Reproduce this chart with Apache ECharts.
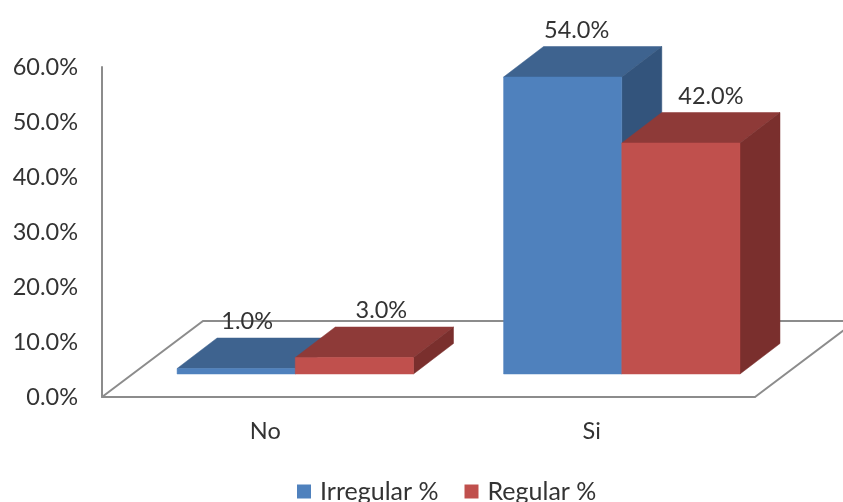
<!DOCTYPE html>
<html>
<head>
<meta charset="utf-8">
<style>html,body{margin:0;padding:0;background:#fff}#chart{width:843px;height:502px}</style>
<script src="https://cdn.jsdelivr.net/npm/echarts@6/dist/echarts.min.js"></script>
</head>
<body>
<div id="chart"></div>
<script>
const categories = ['No', 'Si'];
const irregular = [1, 54];
const regular = [3, 42];
const yTicks = { min: 0, max: 60, interval: 10 };

// Oblique projection used for the 3D look, in pixels
const depthX = 40, depthY = -30.5;        // bar depth
const floorX = 101, floorY = -76;         // floor depth
const barLift = 23;                       // bars stand this far above the front floor edge
const barShift = 0.092, barShare = 0.362; // fractions of a category band
const font = 'Lato, sans-serif';
const fontSize = 23.5;
const legendFontSize = 25;
const textColor = '#333333';
const axisColor = '#8c8c8c';

function pct(v) { return v.toFixed(1) + '%'; }

function floorItem(params, api) {
  const band = api.size([1, 0])[0];
  const o = api.coord([0, 0]);
  const left = o[0] - band / 2;
  const right = left + band * categories.length;
  const y = o[1];
  return {
    type: 'polyline',
    silent: true,
    shape: { points: [[left, y], [left + floorX, y + floorY], [right + floorX, y + floorY], [right, y]] },
    style: { fill: 'none', stroke: axisColor, lineWidth: 2 }
  };
}

// labelDx holds one horizontal label nudge per category
function barRenderer(side, labelDx, colors) {
  return function (params, api) {
    const band = api.size([1, 0])[0];
    const w = band * barShare;
    const top = api.coord([api.value(0), api.value(1)]);
    const base = api.coord([api.value(0), 0]);
    const seam = top[0] + band * barShift;
    const x0 = side < 0 ? seam - w : seam;
    const x1 = x0 + w;
    const yT = top[1] - barLift;
    const yB = base[1] - barLift;
    const poly = (points, fill) => ({
      type: 'polygon',
      silent: true,
      shape: { points },
      style: { fill, stroke: fill, lineWidth: 0.5 }
    });
    return {
      type: 'group',
      children: [
        poly([[x0, yT], [x0 + depthX, yT + depthY], [x1 + depthX, yT + depthY], [x1, yT]], colors.top),
        poly([[x1, yT], [x1 + depthX, yT + depthY], [x1 + depthX, yB + depthY], [x1, yB]], colors.side),
        poly([[x0, yT], [x1, yT], [x1, yB], [x0, yB]], colors.front),
        {
          type: 'text',
          silent: true,
          style: {
            x: (x0 + x1) / 2 + labelDx[params.dataIndex],
            y: yT - 47,
            text: pct(api.value(1)),
            fill: textColor,
            font: fontSize + 'px ' + font,
            align: 'center',
            verticalAlign: 'middle'
          }
        }
      ]
    };
  };
}

const toPoints = vals => categories.map((c, i) => [i, vals[i]]);

const chart = echarts.init(document.getElementById('chart'), null, { renderer: 'canvas' });
chart.setOption({
  animation: false,
  backgroundColor: '#ffffff',
  grid: { left: 102, top: 67, width: 653, height: 330, containLabel: false },
  xAxis: {
    type: 'category',
    data: categories,
    axisTick: { show: false },
    axisLine: { lineStyle: { color: axisColor, width: 2 } },
    axisLabel: { color: textColor, fontFamily: font, fontSize: fontSize, margin: 22 },
    splitLine: { show: false }
  },
  yAxis: {
    type: 'value',
    min: yTicks.min,
    max: yTicks.max,
    interval: yTicks.interval,
    axisLine: { show: true, lineStyle: { color: axisColor, width: 2 } },
    axisTick: { show: false },
    axisLabel: { color: textColor, fontFamily: font, fontSize: fontSize, margin: 24, formatter: pct },
    splitLine: { show: false }
  },
  legend: {
    left: 292,
    top: 474,
    itemWidth: 14,
    itemHeight: 14,
    itemGap: 26,
    icon: 'rect',
    data: ['Irregular %', 'Regular %'],
    textStyle: { color: textColor, fontFamily: font, fontSize: legendFontSize, padding: [0, 0, 0, 4] }
  },
  series: [
    { type: 'custom', name: 'floor', silent: true, data: [[0, 0]], renderItem: floorItem, z: 1 },
    {
      type: 'custom', name: 'Irregular %', data: toPoints(irregular), z: 2,
      itemStyle: { color: '#4F81BD' },
      encode: { x: 0, y: 1 },
      renderItem: barRenderer(-1, [11, 14], { front: '#4F81BD', top: '#3E638F', side: '#33547C' })
    },
    {
      type: 'custom', name: 'Regular %', data: toPoints(regular), z: 3,
      itemStyle: { color: '#C0504D' },
      encode: { x: 0, y: 1 },
      renderItem: barRenderer(1, [27, 30], { front: '#C0504D', top: '#8E3A38', side: '#7A2F2D' })
    }
  ]
});
</script>
</body>
</html>
